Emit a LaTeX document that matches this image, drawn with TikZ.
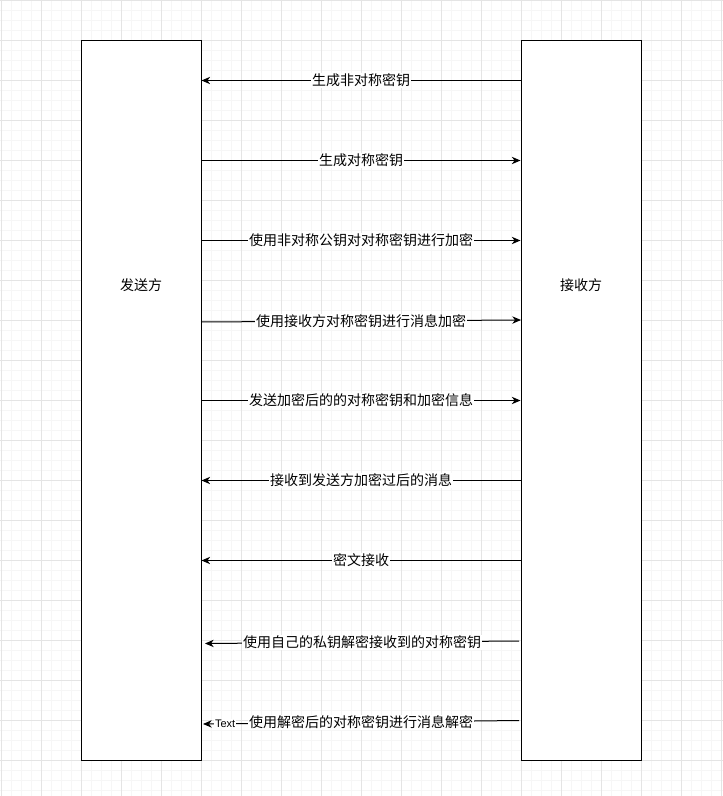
\documentclass[tikz,border=0pt]{standalone}
\usepackage{fontspec}
\setmainfont{Liberation Sans}
\newfontfamily\cjk{Noto Sans CJK SC}
\usetikzlibrary{arrows.meta}
\definecolor{gridminor}{RGB}{246,246,246}
\definecolor{gridmajor}{RGB}{228,228,228}
\tikzset{
  minorline/.style={draw=gridminor, line width=0.75pt},
  majorline/.style={draw=gridmajor, line width=0.75pt},
  partybox/.style={draw=black, fill=white, line width=0.75pt, minimum width=90pt, minimum height=540pt, inner sep=0pt},
  partytext/.style={font=\cjk\fontsize{10.5pt}{12pt}\selectfont, inner sep=0pt},
  msg/.style={draw=black, line width=0.75pt, -{Stealth[length=6.5pt, width=5.5pt, inset=2pt]}},
  lbl/.style={fill=white, font=\cjk\fontsize{10.5pt}{12pt}\selectfont, inner sep=0.6pt},
  textlbl/.style={fill=white, font=\fontsize{8.25pt}{10pt}\selectfont, inner sep=0.6pt}
}
\begin{document}
\begin{tikzpicture}[x=0.75pt, y=-0.75pt]
\useasboundingbox (0,0) rectangle (723,796);
\fill[white] (0,0) rectangle (723,796);
% grid
\foreach \x in {1,11,...,721} \draw[minorline] (\x,0) -- (\x,796);
\foreach \y in {0.5,10.5,...,796} \draw[minorline] (0,\y) -- (723,\y);
\foreach \x in {1,41,...,721} \draw[majorline] (\x,0) -- (\x,796);
\foreach \y in {0.5,40.5,...,796} \draw[majorline] (0,\y) -- (723,\y);
% parties
\node[partybox] (L) at (141,400) {};
\node[partybox] (R) at (581,400) {};
\node[partytext] (Lt) at (141,285) {发送方};
\node[partytext] (Rt) at (581,285) {接收方};
% endpoints of slanted messages
\coordinate (s4) at (201,322);
\coordinate (e4) at (521,320);
\coordinate (s8) at (519,641);
\coordinate (e8) at (205,643.5);
\coordinate (s9) at (519,720.5);
\coordinate (e9) at (203,724);
% messages
\draw[msg] (R.west |- 0,80.5) -- node[lbl] {生成非对称密钥} (L.east |- 0,80.5);
\draw[msg] (L.east |- 0,160.5) -- node[lbl] {生成对称密钥} (R.west |- 0,160.5);
\draw[msg] (L.east |- 0,240.5) -- node[lbl] {使用非对称公钥对对称密钥进行加密} (R.west |- 0,240.5);
\draw[msg] (s4) -- node[lbl] {使用接收方对称密钥进行消息加密} (e4);
\draw[msg] (L.east |- 0,400.5) -- node[lbl] {发送加密后的的对称密钥和加密信息} (R.west |- 0,400.5);
\draw[msg] (R.west |- 0,480.5) -- node[lbl] {接收到发送方加密过后的消息} (L.east |- 0,480.5);
\draw[msg] (R.west |- 0,560.5) -- node[lbl] {密文接收} (L.east |- 0,560.5);
\draw[msg] (s8) -- node[lbl] {使用自己的私钥解密接收到的对称密钥} (e8);
\draw[msg] (s9) -- node[lbl] {使用解密后的对称密钥进行消息解密} node[textlbl, pos=0.93] (tx) {Text} (e9);
\end{tikzpicture}
\end{document}
